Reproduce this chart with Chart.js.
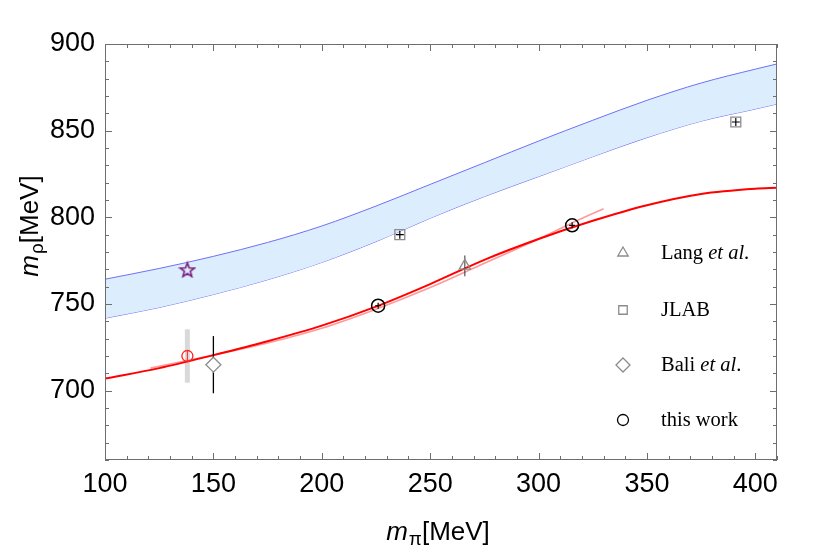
<!DOCTYPE html>
<html lang="en">
<head>
  <meta charset="UTF-8" />
  <title>m_rho vs m_pi</title>
  <script src="https://cdn.jsdelivr.net/npm/chart.js"></script>
  <style>
    html, body { margin: 0; padding: 0; background: #fff; }
    #wrap { width: 822px; height: 548px; }
  </style>
</head>
<body>
  <div id="wrap"><canvas id="chart" width="822" height="548"></canvas></div>
  <script>
    const xTicks = [100, 150, 200, 250, 300, 350, 400];
    const yTicks = [700, 750, 800, 850, 900];

    // blue band (upper / lower edge)
    const bandX = [100, 125, 150, 175, 200, 225, 250, 275, 300, 325, 350, 375, 400, 410];
    const bandUpper = [764.3, 770.5, 777.5, 785.5, 795, 806.5, 819, 831.5, 844, 856, 867.5, 877.5, 885.5, 888.5];
    const bandLower = [741.8, 748, 755.5, 764, 774, 786, 799.5, 812, 823.5, 835, 846, 855.5, 862.5, 865.4];

    // red fit curve
    const fitX = [100, 125, 150, 175, 200, 225, 250, 275, 300, 325, 350, 375, 400, 410];
    const fitY = [707, 713, 720.5, 728.5, 737.5, 748.5, 761.5, 775.5, 787.5, 798, 807, 813.5, 816.5, 817];

    // light red curve
    const lightX = [121, 150, 175, 200, 225, 250, 275, 300, 315, 330];
    const lightY = [713, 720.5, 727.5, 736, 747, 759.5, 773.5, 787.5, 796.5, 805];

    // lattice points
    const langX = [266], langY = [772], langErr = [6];
    const jlabX = [236, 391], jlabY = [790, 855];
    const baliX = [150], baliY = [715], baliErr = [16.5];
    const workX = [226, 315.5], workY = [749, 795.4];
    const physX = [138], physY = [720], physErr = [15.4];
    const starX = [138], starY = [770];

    const legendItems = [
      { style: 'triangle', color: '#8c8c8c', parts: [['Lang ', false], ['et al', true], ['.', false]] },
      { style: 'rect', color: '#8c8c8c', parts: [['JLAB', false]] },
      { style: 'rectRot', color: '#8c8c8c', parts: [['Bali ', false], ['et al', true], ['.', false]] },
      { style: 'circle', color: '#000', parts: [['this work', false]] }
    ];

    const pts = (xs, ys) => xs.map((x, i) => ({ x: x, y: ys[i] }));

    // pentagram outline for the star marker
    function makeStar(size, color) {
      const c = document.createElement('canvas');
      c.width = size; c.height = size;
      const g = c.getContext('2d');
      const r = size / 2 - 1.5, cx = size / 2, cy = size / 2 + 1;
      g.beginPath();
      for (let i = 0; i < 10; i++) {
        const a = -Math.PI / 2 + i * Math.PI / 5;
        const rr = i % 2 ? r * 0.42 : r;
        const px = cx + rr * Math.cos(a), py = cy + rr * Math.sin(a);
        i ? g.lineTo(px, py) : g.moveTo(px, py);
      }
      g.closePath();
      g.strokeStyle = color;
      g.lineWidth = 1.6;
      g.stroke();
      return c;
    }

    function errBars(xs, ys, errs, color, width) {
      return xs.map((x, i) => ({
        data: [{ x: x, y: ys[i] - errs[i] }, { x: x, y: ys[i] + errs[i] }],
        showLine: true, borderColor: color, borderWidth: width,
        pointRadius: 0, order: 2
      }));
    }

    const markerSet = (xs, ys, style, color, r, extra) => Object.assign({
      data: pts(xs, ys), pointStyle: style, pointRadius: r,
      pointBorderColor: color, pointBackgroundColor: 'rgba(0,0,0,0)',
      pointBorderWidth: 1.3, showLine: false, order: 0
    }, extra || {});

    const crossSet = (xs, ys, r) => ({
      data: pts(xs, ys), pointStyle: 'cross', pointRadius: r,
      pointBorderColor: '#000', pointBorderWidth: 1.2, showLine: false, order: 0
    });

    const frameTicks = {
      id: 'frameTicks',
      afterDatasetsDraw(chart) {
        const { ctx, chartArea: a, scales: { x, y } } = chart;
        ctx.save();
        ctx.strokeStyle = '#6e6e6e';
        ctx.lineWidth = 1;
        ctx.strokeRect(a.left + 0.5, a.top + 0.5, a.right - a.left - 1, a.bottom - a.top - 1);
        ctx.beginPath();
        for (let v = 100; v <= 410; v += 10) {
          const px = Math.round(x.getPixelForValue(v)) + 0.5;
          const len = v % 50 === 0 ? 7 : 4;
          ctx.moveTo(px, a.bottom); ctx.lineTo(px, a.bottom - len);
          ctx.moveTo(px, a.top); ctx.lineTo(px, a.top + len);
        }
        for (let v = 660; v <= 900; v += 10) {
          const py = Math.round(y.getPixelForValue(v)) + 0.5;
          const len = v % 50 === 0 ? 7 : 4;
          ctx.moveTo(a.left, py); ctx.lineTo(a.left + len, py);
          ctx.moveTo(a.right, py); ctx.lineTo(a.right - len, py);
        }
        ctx.stroke();
        ctx.restore();
      }
    };

    function drawParts(ctx, parts, x, y, size, family) {
      let cx = x;
      parts.forEach(([t, it]) => {
        ctx.font = (it ? 'italic ' : '') + size + 'px ' + family;
        ctx.fillText(t, cx, y);
        cx += ctx.measureText(t).width;
      });
    }

    const legendAndTitles = {
      id: 'legendAndTitles',
      afterDraw(chart) {
        const ctx = chart.ctx;
        ctx.save();
        ctx.fillStyle = '#000';
        ctx.textBaseline = 'middle';
        const rows = [253, 310, 365, 420];
        legendItems.forEach((it, i) => {
          ctx.strokeStyle = it.color;
          ctx.fillStyle = 'rgba(0,0,0,0)';
          ctx.lineWidth = 1.3;
          const r = it.style === 'circle' ? 5.5 : it.style === 'rectRot' ? 7 : 6;
          Chart.helpers.drawPoint(ctx, { pointStyle: it.style, radius: r, rotation: 0, borderWidth: 1.3 }, 623, rows[i]);
          ctx.fillStyle = '#000';
          drawParts(ctx, it.parts, 661, rows[i] + 1, 20.5, '"Liberation Serif", serif');
        });

        // axis titles with subscripts
        const sans = '"Liberation Sans", Arial, sans-serif';
        const title = (sub) => [['m', true, 26, 0, 1], [sub, false, 19, 5, 0], ['[MeV]', false, 26, 0, 0]];
        const widthOf = (p) => p.reduce((s, [t, it, sz, dy, gap]) => {
          ctx.font = (it ? 'italic ' : '') + sz + 'px ' + sans;
          return s + ctx.measureText(t).width + gap;
        }, 0);
        const put = (p, x0, y0) => {
          let cx = x0;
          p.forEach(([t, it, sz, dy, gap]) => {
            ctx.font = (it ? 'italic ' : '') + sz + 'px ' + sans;
            ctx.fillText(t, cx, y0 + dy);
            cx += ctx.measureText(t).width + gap;
          });
        };
        ctx.textBaseline = 'alphabetic';
        const xt = title('\u03c0');
        put(xt, 438 - widthOf(xt) / 2, 540);
        const yt = title('\u03c1');
        ctx.translate(38, 226);
        ctx.rotate(-Math.PI / 2);
        put(yt, -widthOf(yt) / 2, 0);
        ctx.restore();
      }
    };

    const tickFont = { family: '"Liberation Sans", Arial, sans-serif', size: 27 };

    new Chart(document.getElementById('chart'), {
      type: 'scatter',
      data: {
        datasets: [
          markerSet(starX, starY, makeStar(18, '#7a1a7a'), '#7a1a7a', 8),
          markerSet(physX, physY, 'circle', '#ff2020', 5.5),
          markerSet(langX, langY, 'triangle', '#8c8c8c', 6.5),
          markerSet(jlabX, jlabY, 'rect', '#8c8c8c', 7),
          markerSet(baliX, baliY, 'rectRot', '#8c8c8c', 7.5, { pointBackgroundColor: '#fff' }),
          markerSet(workX, workY, 'circle', '#000', 6.5, { pointBorderWidth: 1.5 }),
          crossSet(jlabX, jlabY, 4),
          crossSet(workX, workY, 3),
          crossSet(baliX, baliY, 3),
          ...errBars(langX, langY, langErr, '#333', 1),
          ...errBars(baliX, baliY, baliErr, '#000', 1.3),
          ...errBars(physX, physY, [3], '#ff2020', 1),
          ...errBars(physX, physY, physErr, '#d9d9d9', 5).map(d => Object.assign(d, { order: 3 })),
          {
            data: pts(fitX, fitY), showLine: true, borderColor: '#ff0000', borderWidth: 2,
            pointRadius: 0, cubicInterpolationMode: 'monotone', order: 2
          },
          {
            data: pts(lightX, lightY), showLine: true, borderColor: '#ff9a9a', borderWidth: 1.6,
            pointRadius: 0, cubicInterpolationMode: 'monotone', order: 2
          },
          {
            data: pts(bandX, bandUpper), showLine: true, borderColor: '#6f6ff5', borderWidth: 1,
            pointRadius: 0, cubicInterpolationMode: 'monotone', fill: '+1',
            backgroundColor: '#dcedfd', order: 5
          },
          {
            data: pts(bandX, bandLower), showLine: true, borderColor: '#6f6ff5', borderWidth: 1,
            pointRadius: 0, cubicInterpolationMode: 'monotone', order: 5
          }
        ]
      },
      options: {
        responsive: false,
        animation: false,
        layout: { padding: { top: 44, right: 45, left: 0, bottom: 0 } },
        plugins: { legend: { display: false }, tooltip: { enabled: false } },
        scales: {
          x: {
            type: 'linear', min: 100, max: 410,
            afterBuildTicks: s => { s.ticks = xTicks.map(v => ({ value: v })); },
            afterFit: s => { s.height = 88; },
            grid: { display: false, drawTicks: false },
            border: { display: false },
            ticks: { font: tickFont, color: '#000', padding: 8, maxRotation: 0 }
          },
          y: {
            type: 'linear', min: 660, max: 900,
            afterBuildTicks: s => { s.ticks = yTicks.map(v => ({ value: v })); },
            afterFit: s => { s.width = 105; },
            grid: { display: false, drawTicks: false },
            border: { display: false },
            ticks: { font: tickFont, color: '#000', padding: 10 }
          }
        }
      },
      plugins: [frameTicks, legendAndTitles]
    });
  </script>
</body>
</html>
